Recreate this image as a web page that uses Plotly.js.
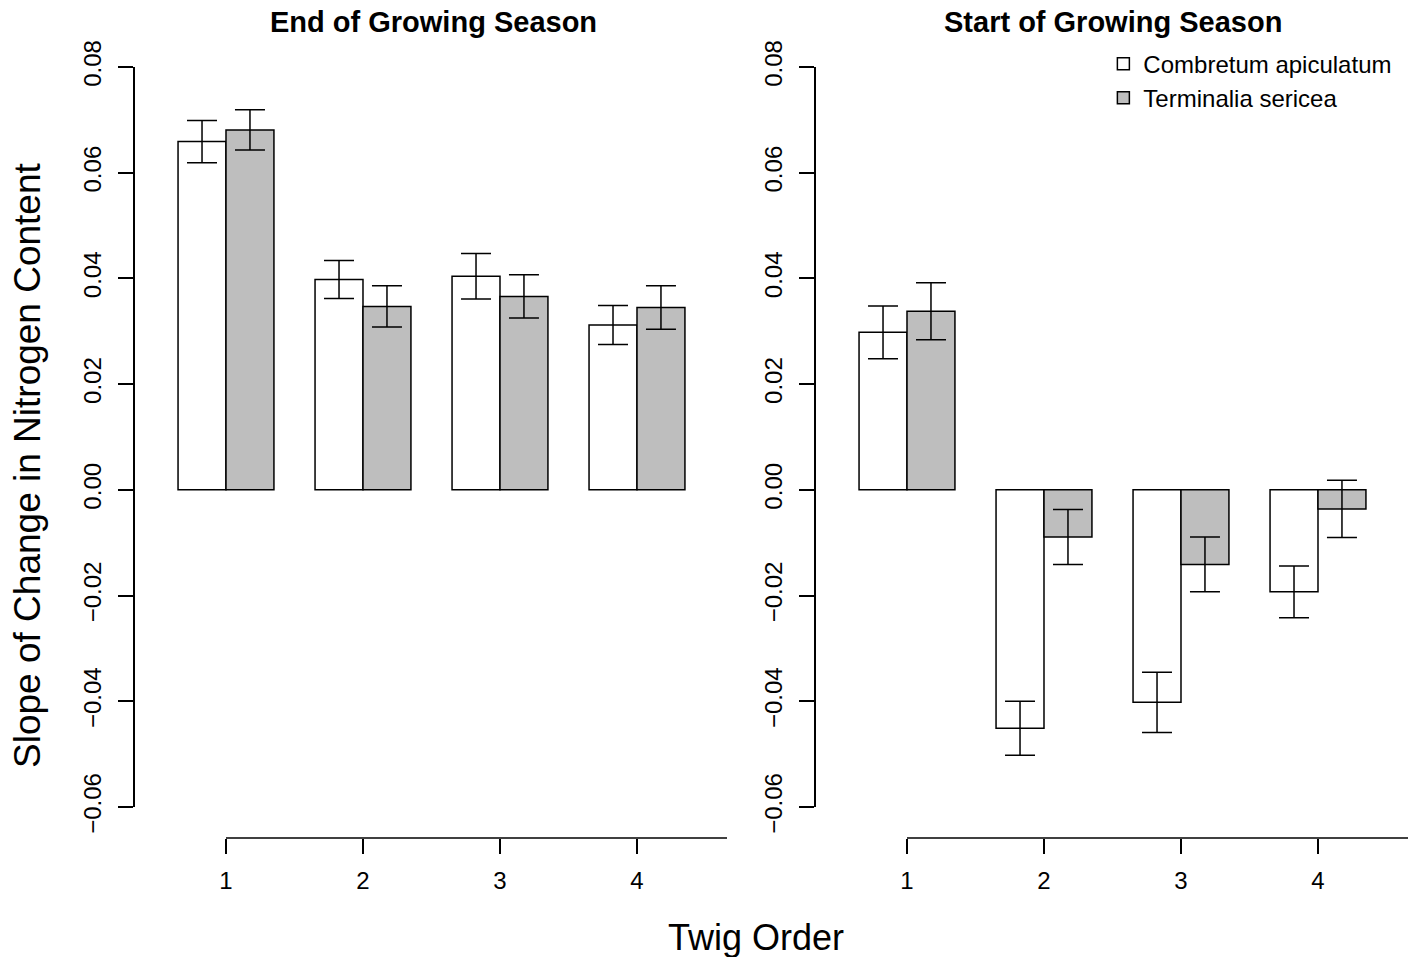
<!DOCTYPE html>
<html>
<head>
<meta charset="utf-8">
<script src="https://cdn.plot.ly/plotly-3.0.1.min.js"></script>
<style>html,body{margin:0;padding:0;background:#fff;}#chart{width:1414px;height:957px;}</style>
</head>
<body>
<div id="chart"></div>
<script>
// ---- data ----
var twigOrder = [1, 2, 3, 4];
var tickLabels = ['1', '2', '3', '4'];
var seriesNames = ['Combretum apiculatum', 'Terminalia sericea'];
var panelTitles = ['End of Growing Season', 'Start of Growing Season'];

var endComb = [0.0659, 0.0398, 0.0404, 0.0312];
var endCombErr = [0.0040, 0.0036, 0.0043, 0.0037];
var endTerm = [0.0681, 0.0347, 0.0366, 0.0345];
var endTermErr = [0.0038, 0.0039, 0.0041, 0.0041];

var startComb = [0.0298, -0.0451, -0.0402, -0.0193];
var startCombErr = [0.0050, 0.0051, 0.0057, 0.0049];
var startTerm = [0.0338, -0.0089, -0.0141, -0.0036];
var startTermErr = [0.0054, 0.0052, 0.0052, 0.0054];

var yTickVals = [-0.06, -0.04, -0.02, 0.00, 0.02, 0.04, 0.06, 0.08];

// ---- styling ----
var FONT = 'Liberation Sans, Arial, Helvetica, sans-serif';
var fills = ['#FFFFFF', '#BEBEBE'];
var LW = 1.5;
var xRange = [0.3358, 4.657];

function barTrace(x, y, err, idx, xa, ya, showLegend) {
  return {
    type: 'bar', x: x, y: y, name: seriesNames[idx],
    xaxis: xa, yaxis: ya, showlegend: showLegend, legendgroup: 's' + idx,
    marker: {color: fills[idx], line: {color: '#000', width: LW}},
    error_y: {type: 'data', array: err, visible: true, color: '#000', thickness: LW, width: 15},
    hoverinfo: 'x+y'
  };
}

var data = [
  barTrace(twigOrder, endComb, endCombErr, 0, 'x', 'y', false),
  barTrace(twigOrder, endTerm, endTermErr, 1, 'x', 'y', false),
  barTrace(twigOrder, startComb, startCombErr, 0, 'x2', 'y2', true),
  barTrace(twigOrder, startTerm, startTermErr, 1, 'x2', 'y2', true)
];

function xAxis(domain) {
  return {
    domain: domain, range: xRange, anchor: 'free', position: 0,
    showline: false, showgrid: false, zeroline: false,
    ticks: 'outside', ticklen: 15, tickwidth: LW, tickcolor: '#000',
    tickvals: twigOrder, ticktext: tickLabels, ticklabelstandoff: 6,
    tickfont: {family: FONT, size: 24, color: '#000'}, fixedrange: true
  };
}
function yAxis(anchor) {
  return {
    domain: [0.04021, 1], range: [-0.06, 0.08], anchor: anchor,
    showline: true, linecolor: '#000', linewidth: LW,
    showgrid: false, zeroline: false,
    ticks: 'outside', ticklen: 15, tickwidth: LW, tickcolor: '#000',
    tickvals: yTickVals, tickformat: '.2f', tickangle: -90, ticklabelstandoff: 8,
    tickfont: {family: FONT, size: 24, color: '#000'}, fixedrange: true
  };
}

var layout = {
  width: 1414, height: 957,
  margin: {l: 135, r: 6, t: 67, b: 119},
  paper_bgcolor: '#fff', plot_bgcolor: '#fff',
  font: {family: FONT, color: '#000'},
  barmode: 'group', bargap: 0.3, bargroupgap: 0,
  xaxis: xAxis([0, 0.46504]),
  xaxis2: xAxis([0.53496, 1]),
  yaxis: yAxis('x'),
  yaxis2: yAxis('x2'),
  showlegend: true,
  legend: {
    x: 0.7607, xanchor: 'left', y: 1.033, yanchor: 'top',
    font: {family: FONT, size: 24, color: '#000'},
    bgcolor: 'rgba(0,0,0,0)', borderwidth: 0, tracegroupgap: 0
  },
  shapes: [
    {type: 'line', xref: 'x', yref: 'paper', x0: 1, x1: xRange[1], y0: 0, y1: 0, line: {color: '#000', width: LW}},
    {type: 'line', xref: 'x2', yref: 'paper', x0: 1, x1: xRange[1], y0: 0, y1: 0, line: {color: '#000', width: LW}}
  ],
  annotations: [
    {text: '<b>' + panelTitles[0] + '</b>', xref: 'paper', yref: 'paper', x: 0.2345, y: 1.0584,
     xanchor: 'center', yanchor: 'middle', showarrow: false, font: {family: FONT, size: 29, color: '#000'}},
    {text: '<b>' + panelTitles[1] + '</b>', xref: 'paper', yref: 'paper', x: 0.7685, y: 1.0584,
     xanchor: 'center', yanchor: 'middle', showarrow: false, font: {family: FONT, size: 29, color: '#000'}},
    {text: 'Slope of Change in Nitrogen Content', xref: 'paper', yref: 'paper', x: -0.0841, y: 0.4838,
     xanchor: 'center', yanchor: 'middle', textangle: -90, showarrow: false, font: {family: FONT, size: 37, color: '#000'}},
    {text: 'Twig Order', xref: 'paper', yref: 'paper', x: 0.4882, y: -0.1297,
     xanchor: 'center', yanchor: 'middle', showarrow: false, font: {family: FONT, size: 36, color: '#000'}}
  ]
};

Plotly.newPlot('chart', data, layout, {displayModeBar: false, staticPlot: false, responsive: false});
</script>
</body>
</html>
